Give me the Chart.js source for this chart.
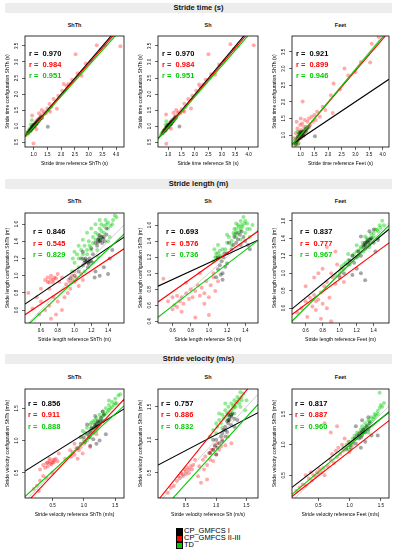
<!DOCTYPE html>
<html>
<head>
<meta charset="utf-8">
<script src="https://cdn.jsdelivr.net/npm/chart.js@4.4.1/dist/chart.umd.min.js"></script>
<style>
  body { margin: 0; background: #fff; font-family: "Liberation Sans", Arial, sans-serif; }
  #page { position: relative; width: 396px; height: 550px; overflow: hidden; }
  .bar { position: absolute; left: 5px; width: 387px; height: 10px; background: #ededed;
         font-weight: bold; font-size: 7.5px; line-height: 10px; text-align: center; color: #111; }
  .ptitle { position: absolute; width: 100px; text-align: center; font-weight: bold; font-size: 5.5px; line-height: 6px; color: #111; }
  canvas { position: absolute; }
  .leg { position: absolute; font-size: 7.5px; line-height: 7px; color: #000; white-space: nowrap; }
  .sq { position: absolute; width: 4.5px; height: 4.5px; border: 0.8px solid #000; }
</style>
</head>
<body>
<div id="page"></div>
<script>
// labels
const sectionTitles = ["Stride time (s)", "Stride length (m)", "Stride velocity (m/s)"];
const quantities = ["time", "length", "velocity"];
const units = ["s", "m", "m/s"];
const sensors = ["ShTh", "Sh", "Feet"];
const groupNames = ["CP_GMFCS I", "CP_GMFCS II-III", "TD"];

// r values per panel: [CP_GMFCS I, CP_GMFCS II-III, TD]
const rTime = [["0.970", "0.984", "0.951"], ["0.970", "0.984", "0.951"], ["0.921", "0.899", "0.946"]];
const rLength = [["0.846", "0.545", "0.829"], ["0.693", "0.576", "0.736"], ["0.837", "0.777", "0.967"]];
const rVelocity = [["0.856", "0.911", "0.888"], ["0.757", "0.886", "0.832"], ["0.817", "0.887", "0.960"]];

// regression lines: slope / intercept, [black, red, green]
const slopeTime = [[1.00, 0.98, 0.96], [1.00, 0.98, 0.96], [0.55, 0.96, 0.98]];
const interceptTime = [[-0.01, 0.00, 0.00], [-0.01, 0.00, 0.00], [0.35, 0.05, 0.03]];
const slopeLength = [[0.66, 0.65, 0.92], [0.52, 0.80, 0.87], [0.80, 0.72, 0.96]];
const interceptLength = [[0.40, 0.28, 0.02], [0.61, 0.29, 0.07], [0.24, 0.21, 0.03]];
const slopeVelocity = [[0.61, 1.03, 0.89], [0.48, 1.14, 1.01], [0.79, 0.80, 0.87]];
const interceptVelocity = [[0.49, -0.05, 0.08], [0.60, 0.04, -0.17], [0.24, 0.09, 0.12]];

// axis ranges and tick steps
const xRangeTime = [[0.69, 4.29], [0.62, 4.35], [0.68, 4.23]];
const yRangeTime = [[0.35, 3.81], [0.35, 3.81], [0.64, 3.98]];
const xRangeLength = [[0.41, 1.59], [0.44, 1.54], [0.44, 1.58]];
const yRangeLength = [[0.45, 1.73], [0.38, 1.75], [0.43, 1.69]];
const xRangeVelocity = [[0.06, 1.64], [0.04, 1.69], [0.08, 1.63]];
const yRangeVelocity = [[0.11, 1.80], [0.12, 1.77], [0.13, 1.91]];
const tickSteps = [0.5, 0.2, 0.5];

// points, flat x,y pairs
const timeShTh_black = [0.85,0.84, 0.88,0.87, 0.9,0.9, 0.92,0.9, 0.94,0.95, 0.96,0.94, 0.98,0.99, 1.0,1.0, 1.02,1.0, 1.03,1.05, 1.05,1.04, 1.07,1.08, 1.08,1.06, 1.1,1.1, 1.12,1.13, 1.13,1.1, 1.15,1.16, 1.17,1.15, 1.2,1.2, 1.22,1.23, 1.25,1.24, 1.28,1.3, 1.3,1.27, 0.95,0.97, 1.0,1.03, 1.1,1.07, 1.52,0.98, 0.8,0.8];
const timeShTh_red = [0.8,0.78, 0.85,0.9, 0.9,0.85, 0.95,1.33, 1.0,0.46, 0.95,1.0, 1.0,1.05, 1.05,0.98, 1.1,1.15, 1.15,1.2, 1.2,1.15, 1.25,1.3, 1.3,1.25, 1.35,1.39, 1.4,1.45, 1.45,1.4, 1.5,1.55, 1.55,1.5, 1.58,1.69, 1.65,1.6, 1.73,1.85, 1.85,1.54, 1.9,1.95, 2.04,2.1, 2.1,2.31, 2.27,2.31, 2.2,2.25, 2.4,2.45, 2.53,3.24, 2.6,2.65, 2.75,2.57, 2.9,2.95, 3.1,3.05, 3.3,3.52, 3.45,3.4, 3.6,3.52, 4.16,3.49, 1.2,1.4, 1.3,1.5, 1.1,0.9, 1.6,1.45];
const timeShTh_green = [0.75,0.73, 0.78,0.8, 0.8,0.78, 0.82,0.84, 0.85,0.83, 0.87,0.9, 0.9,0.88, 0.92,0.95, 0.95,0.92, 0.97,1.0, 1.0,0.97, 1.02,1.04, 1.05,1.02, 1.08,1.1, 1.1,1.08, 1.15,1.13, 1.2,1.22, 1.25,1.22, 0.88,0.86, 0.93,0.93, 0.94,1.18, 0.9,1.05];

const timeSh_black = [0.84,0.85, 0.87,0.86, 0.89,0.91, 0.91,0.89, 0.93,0.95, 0.96,0.95, 0.98,1.0, 1.0,0.98, 1.02,1.03, 1.04,1.05, 1.06,1.04, 1.07,1.09, 1.09,1.07, 1.11,1.11, 1.12,1.14, 1.14,1.11, 1.16,1.17, 1.18,1.15, 1.21,1.2, 1.23,1.24, 1.26,1.25, 1.29,1.3, 0.95,0.98, 1.0,1.04, 1.1,1.06, 1.42,0.99, 0.8,0.79];
const timeSh_red = [0.8,0.8, 0.85,0.88, 0.9,0.86, 0.93,0.45, 0.92,1.36, 0.95,1.0, 1.0,1.04, 1.05,0.97, 1.1,1.14, 1.15,1.2, 1.2,1.16, 1.25,1.3, 1.3,1.26, 1.35,1.4, 1.4,1.44, 1.45,1.4, 1.5,1.53, 1.55,1.48, 1.6,1.7, 1.65,1.6, 1.75,1.85, 1.85,1.55, 1.9,1.95, 2.05,2.1, 2.15,2.3, 2.3,2.3, 2.2,2.22, 2.4,2.45, 2.5,3.24, 2.6,2.62, 2.75,2.6, 2.9,2.92, 3.1,3.05, 3.32,3.55, 3.45,3.4, 3.6,3.5, 4.19,3.52, 1.2,1.42, 1.3,1.5, 1.1,0.92, 1.6,1.45];
const timeSh_green = [0.74,0.74, 0.77,0.79, 0.8,0.79, 0.82,0.83, 0.84,0.84, 0.87,0.89, 0.89,0.88, 0.92,0.94, 0.95,0.93, 0.97,0.99, 1.0,0.98, 1.02,1.03, 1.05,1.03, 1.08,1.09, 1.1,1.07, 1.15,1.14, 1.2,1.21, 1.24,1.22, 0.88,0.87, 0.93,0.92, 0.93,1.15, 0.9,1.04];

const timeFeet_black = [0.85,0.8, 0.88,0.9, 0.9,0.85, 0.92,0.95, 0.95,0.9, 0.97,1.0, 1.0,0.97, 1.02,1.05, 1.05,1.0, 1.07,1.1, 1.1,1.05, 1.12,1.12, 1.15,1.1, 1.18,1.18, 1.2,1.15, 1.25,1.22, 1.3,1.25, 0.95,1.05, 1.0,1.1, 1.52,0.96, 0.82,0.72, 1.1,0.98];
const timeFeet_red = [0.75,0.9, 0.8,0.7, 0.82,1.05, 0.85,0.85, 0.88,1.2, 0.9,0.95, 0.92,0.75, 0.95,1.1, 0.98,1.3, 1.0,0.9, 1.02,1.15, 1.05,1.35, 1.07,2.01, 1.1,1.0, 1.12,1.25, 1.15,1.45, 1.2,1.1, 1.25,1.4, 1.3,1.5, 1.35,1.3, 1.4,1.55, 1.45,1.4, 1.5,1.6, 1.55,1.45, 1.6,1.7, 1.7,1.55, 1.8,1.85, 1.9,1.75, 2.17,1.66, 2.1,2.2, 2.2,2.55, 2.44,2.37, 2.74,2.79, 2.6,3.0, 3.0,2.9, 3.2,3.2, 3.54,3.18, 3.6,3.75, 3.85,3.95, 0.85,1.4, 1.0,1.5];
const timeFeet_green = [0.75,0.8, 0.8,0.75, 0.82,0.88, 0.85,0.82, 0.88,0.95, 0.9,0.88, 0.93,1.0, 0.95,0.9, 0.98,1.05, 1.0,0.95, 1.03,1.08, 1.05,1.0, 1.1,1.1, 1.15,1.15, 1.2,1.25, 0.88,1.1, 0.9,0.72, 1.25,1.2];

const lengthShTh_black = [1.25,1.38, 1.28,1.42, 1.3,1.4, 1.32,1.45, 1.34,1.43, 1.3,1.47, 1.36,1.4, 1.27,1.35, 1.33,1.38, 1.38,1.48, 1.12,1.15, 1.15,1.18, 1.17,1.14, 1.13,1.2, 1.18,1.2, 1.1,1.12, 1.2,1.17, 1.16,1.1, 1.05,1.05, 1.08,1.2, 1.22,1.25, 1.0,1.0, 1.25,1.05, 1.3,1.0, 1.35,1.1, 1.4,1.02, 1.42,1.2, 1.45,1.3, 1.38,1.55, 1.2,1.32, 1.24,0.98, 0.95,0.97, 1.1,1.28, 1.29,1.44, 1.31,1.41, 1.35,1.45, 1.28,1.39, 1.14,1.16, 1.16,1.15, 1.18,1.17, 1.12,1.18];
const lengthShTh_red = [0.65,0.95, 0.68,0.98, 0.7,0.92, 0.72,1.0, 0.75,0.95, 0.78,0.97, 0.8,1.02, 0.82,0.93, 0.85,0.98, 0.7,0.85, 0.9,0.9, 0.93,0.95, 0.95,0.85, 0.97,1.0, 1.0,0.93, 1.02,0.98, 1.05,0.88, 0.92,0.8, 1.0,1.05, 0.55,0.75, 0.5,0.62, 0.58,0.55, 0.6,0.7, 0.65,0.6, 0.7,0.65, 0.72,0.5, 0.75,0.75, 0.8,0.7, 0.85,0.6, 0.88,0.75, 0.6,0.85, 0.45,0.8, 0.78,0.55, 1.1,0.95, 1.08,1.02, 0.68,0.93, 0.72,0.96, 0.74,0.92, 0.76,0.98, 0.95,0.92, 0.98,0.95];
const lengthShTh_green = [0.97,1.05, 1.0,1.15, 1.03,1.25, 1.05,1.1, 1.08,1.3, 1.1,1.2, 1.12,1.35, 1.15,1.25, 1.17,1.4, 1.2,1.3, 1.22,1.45, 1.25,1.5, 1.27,1.3, 1.3,1.55, 1.32,1.6, 1.35,1.5, 1.37,1.65, 1.4,1.55, 1.42,1.45, 1.45,1.6, 1.48,1.7, 1.5,1.68, 1.15,1.5, 1.2,1.55, 1.25,1.6, 1.05,1.35, 1.1,1.42, 1.3,1.65, 1.4,1.4, 1.28,1.22, 1.12,1.05, 1.0,1.28, 0.98,1.2, 1.22,1.15, 1.25,1.42, 1.28,1.48, 1.32,1.52, 1.35,1.58, 1.38,1.6, 1.4,1.62, 1.43,1.58, 1.46,1.65, 1.18,1.35, 1.22,1.38, 1.15,1.3, 1.3,1.42, 1.33,1.45, 1.1,1.25, 1.05,1.2];

const lengthSh_black = [1.1,1.05, 1.12,1.1, 1.14,1.15, 1.15,1.0, 1.16,1.2, 1.18,1.08, 1.13,0.98, 1.17,1.25, 1.2,1.12, 1.1,1.2, 1.28,1.45, 1.3,1.5, 1.32,1.42, 1.34,1.48, 1.3,1.38, 1.36,1.52, 1.27,1.35, 1.25,1.3, 1.38,1.45, 1.4,1.4, 1.43,1.35, 1.45,1.3, 1.2,1.25, 1.22,1.38, 1.08,0.95, 1.15,0.92, 1.35,1.35];
const lengthSh_red = [0.55,0.65, 0.6,0.7, 0.62,0.6, 0.65,0.72, 0.68,0.65, 0.7,0.7, 0.72,0.62, 0.75,0.75, 0.78,0.68, 0.8,0.8, 0.82,0.7, 0.85,0.78, 0.88,0.85, 0.9,0.72, 0.92,0.82, 0.95,0.75, 0.97,0.9, 1.0,0.7, 1.02,0.85, 1.05,0.95, 1.07,0.78, 1.1,0.9, 0.95,0.62, 0.6,0.55, 0.5,0.93, 0.85,0.45, 1.0,0.48, 0.7,0.52, 0.75,0.88, 0.9,1.0, 1.05,1.0, 0.65,0.58];
const lengthSh_green = [1.05,1.15, 1.07,1.2, 1.08,1.25, 1.1,1.18, 1.12,1.28, 1.13,1.22, 1.15,1.3, 1.06,1.3, 1.2,1.38, 1.22,1.45, 1.25,1.4, 1.27,1.5, 1.28,1.55, 1.3,1.45, 1.32,1.6, 1.34,1.52, 1.35,1.65, 1.37,1.58, 1.38,1.7, 1.4,1.5, 1.42,1.62, 1.45,1.55, 1.3,1.62, 1.25,1.35, 1.2,1.48, 1.35,1.42, 1.1,1.35, 1.45,1.45, 1.48,1.6, 1.18,1.3, 1.3,1.55, 1.33,1.58, 1.36,1.6, 1.39,1.62, 1.4,1.65, 1.35,1.55, 1.28,1.48, 1.32,1.5, 1.1,1.25, 1.08,1.2, 1.12,1.2, 1.42,1.55];

const lengthFeet_black = [1.1,1.1, 1.12,1.15, 1.15,1.2, 1.17,1.12, 1.2,1.18, 1.22,1.25, 1.25,1.2, 1.28,1.32, 1.3,1.35, 1.32,1.3, 1.33,1.38, 1.35,1.33, 1.37,1.4, 1.3,1.28, 1.4,1.35, 1.2,1.05, 1.25,1.0, 1.3,0.92, 1.15,0.98, 1.05,1.0, 1.35,1.48, 1.4,1.5, 1.45,1.38, 1.0,0.95, 1.25,1.42, 1.42,1.25, 1.3,1.33, 1.32,1.36, 1.34,1.35, 1.28,1.3, 1.36,1.38];
const lengthFeet_red = [0.5,0.55, 0.55,0.6, 0.6,0.68, 0.62,0.5, 0.65,0.72, 0.68,0.62, 0.7,0.75, 0.72,0.68, 0.75,0.7, 0.78,0.78, 0.8,0.65, 0.82,0.85, 0.85,0.9, 0.88,0.72, 0.9,1.0, 0.92,0.95, 0.95,0.88, 0.97,1.1, 1.0,0.98, 1.02,1.05, 0.7,0.95, 0.75,1.0, 0.8,1.05, 0.85,1.3, 0.95,1.25, 0.78,0.48, 0.9,0.45, 0.85,0.6, 0.6,0.85, 1.05,0.9, 0.72,0.58];
const lengthFeet_green = [0.95,0.98, 1.0,1.02, 1.02,1.08, 1.05,1.05, 1.07,1.12, 1.1,1.15, 1.12,1.1, 1.15,1.2, 1.17,1.22, 1.2,1.25, 1.22,1.2, 1.25,1.3, 1.27,1.35, 1.3,1.32, 1.32,1.4, 1.35,1.38, 1.37,1.45, 1.4,1.42, 1.42,1.5, 1.45,1.48, 1.47,1.55, 1.5,1.6, 1.52,1.55, 1.3,1.42, 1.2,1.32, 1.1,1.22, 1.45,1.4, 1.35,1.3, 1.05,1.1, 1.28,1.25, 1.3,1.35, 1.33,1.36, 1.36,1.4, 1.38,1.4, 1.4,1.46, 1.44,1.5, 1.48,1.52, 1.25,1.28, 1.22,1.26];

const velocityShTh_black = [0.95,0.95, 1.0,1.05, 1.02,0.98, 1.05,1.1, 1.08,1.05, 1.1,1.15, 1.12,1.2, 1.15,1.12, 1.17,1.25, 1.2,1.2, 1.22,1.3, 1.25,1.25, 1.27,1.35, 1.3,1.3, 1.32,1.4, 1.1,0.92, 1.2,0.95, 1.25,1.0, 1.15,1.02, 0.9,0.88, 1.35,1.1, 1.3,1.45, 1.18,1.38, 1.05,1.25, 1.15,1.18, 1.18,1.22, 1.2,1.26, 1.22,1.22, 1.25,1.3, 1.1,1.12];
const velocityShTh_red = [0.3,0.55, 0.35,0.62, 0.38,0.58, 0.4,0.65, 0.42,0.6, 0.45,0.68, 0.48,0.63, 0.5,0.7, 0.52,0.66, 0.55,0.72, 0.58,0.68, 0.45,0.72, 0.35,0.45, 0.3,0.38, 0.25,0.3, 0.4,0.42, 0.28,0.22, 0.5,0.5, 0.2,0.25, 0.8,0.75, 0.82,0.82, 0.85,0.78, 0.88,0.88, 0.9,0.72, 0.92,0.85, 0.95,0.9, 0.85,0.95, 0.78,0.85, 0.98,0.8, 1.0,0.95, 1.05,1.0, 1.1,0.9, 0.6,0.8, 0.95,1.05, 1.2,1.1, 0.7,0.72, 0.42,0.66, 0.46,0.64, 0.5,0.66, 0.53,0.7];
const velocityShTh_green = [0.95,1.05, 1.0,1.0, 1.02,1.12, 1.05,1.2, 1.08,1.1, 1.1,1.25, 1.12,1.18, 1.15,1.3, 1.18,1.22, 1.2,1.35, 1.22,1.28, 1.25,1.4, 1.28,1.35, 1.3,1.45, 1.32,1.4, 1.35,1.5, 1.38,1.45, 1.4,1.55, 1.42,1.5, 1.45,1.6, 1.48,1.55, 1.5,1.65, 1.55,1.7, 1.58,1.72, 1.52,1.58, 1.1,1.05, 1.2,1.15, 1.3,1.3, 0.98,1.15, 1.4,1.62, 1.15,1.2, 1.2,1.25, 1.25,1.3, 1.3,1.38, 1.35,1.42, 1.4,1.48, 1.45,1.52, 1.5,1.58, 1.12,1.28, 1.18,1.32];

const velocitySh_black = [0.9,0.8, 0.95,0.85, 0.98,0.92, 1.0,0.78, 1.02,0.88, 1.05,0.95, 1.08,1.05, 1.1,1.1, 1.12,1.15, 1.15,1.2, 1.18,1.12, 1.2,1.25, 1.22,1.3, 1.25,1.35, 1.27,1.4, 1.3,1.32, 1.15,1.05, 1.1,0.98, 1.0,1.0, 1.25,1.22, 1.2,1.38, 1.35,1.3, 1.3,1.2, 0.95,1.0, 1.2,1.3, 1.22,1.35, 1.25,1.38, 1.18,1.28, 1.15,1.15];
const velocitySh_red = [0.35,0.38, 0.38,0.45, 0.4,0.42, 0.42,0.5, 0.45,0.48, 0.48,0.55, 0.5,0.52, 0.52,0.58, 0.55,0.5, 0.58,0.6, 0.6,0.55, 0.62,0.62, 0.3,0.3, 0.25,0.28, 0.2,0.2, 0.7,0.45, 0.72,0.6, 0.75,0.35, 0.78,0.7, 0.8,0.55, 0.82,0.75, 0.85,0.62, 0.88,0.8, 0.9,0.7, 0.92,0.85, 0.95,0.68, 0.98,0.9, 1.0,0.78, 1.02,0.95, 1.05,0.85, 1.08,0.9, 1.1,1.0, 1.15,0.92, 1.2,1.05, 1.25,0.95, 0.85,0.4, 0.65,0.7, 0.45,0.45, 0.5,0.48, 0.55,0.55, 0.9,0.8, 0.95,0.85];
const velocitySh_green = [0.9,1.05, 0.95,1.15, 1.0,1.1, 1.02,1.2, 1.05,1.3, 1.08,1.25, 1.1,1.38, 1.12,1.32, 1.15,1.45, 1.18,1.4, 1.2,1.5, 1.22,1.42, 1.25,1.55, 1.28,1.48, 1.3,1.6, 1.32,1.5, 1.35,1.65, 1.38,1.55, 1.4,1.5, 1.42,1.6, 1.45,1.7, 1.48,1.45, 1.5,1.6, 1.0,1.25, 1.1,1.18, 1.2,1.3, 1.3,1.4, 1.15,1.55, 1.05,1.4, 1.4,1.72, 1.2,1.4, 1.25,1.45, 1.28,1.52, 1.3,1.5, 1.32,1.55, 1.35,1.58, 1.38,1.62, 1.25,1.38, 1.15,1.35, 1.42,1.65];

const velocityFeet_black = [1.0,1.0, 1.02,0.95, 1.05,1.05, 1.08,1.1, 1.1,1.02, 1.12,1.15, 1.15,1.1, 1.17,1.2, 1.2,1.15, 1.22,1.25, 1.25,1.2, 1.27,1.3, 1.3,1.25, 1.32,1.35, 1.18,0.95, 1.25,1.05, 1.35,1.15, 1.1,1.3, 1.3,1.45, 1.45,1.15, 1.2,1.4, 0.95,0.92, 1.15,1.15, 1.2,1.2, 1.22,1.2, 1.25,1.25, 1.18,1.12];
const velocityFeet_red = [0.15,0.25, 0.2,0.3, 0.25,0.35, 0.3,0.33, 0.35,0.45, 0.4,0.42, 0.42,0.5, 0.45,0.48, 0.48,0.55, 0.5,0.52, 0.52,0.6, 0.55,0.55, 0.58,0.62, 0.6,0.5, 0.38,0.55, 0.3,0.5, 0.7,0.75, 0.72,0.85, 0.75,0.7, 0.78,0.9, 0.8,0.8, 0.82,0.95, 0.85,0.85, 0.88,1.0, 0.9,0.9, 0.92,1.1, 0.95,0.95, 0.98,1.05, 1.0,0.88, 0.6,1.35, 0.8,1.3, 0.7,1.2, 1.05,1.0, 0.65,0.65];
const velocityFeet_green = [0.9,0.95, 0.95,1.0, 1.0,1.05, 1.02,1.0, 1.05,1.1, 1.08,1.15, 1.1,1.1, 1.12,1.2, 1.15,1.18, 1.18,1.25, 1.2,1.3, 1.22,1.25, 1.25,1.35, 1.28,1.3, 1.3,1.4, 1.32,1.38, 1.35,1.45, 1.38,1.42, 1.4,1.5, 1.42,1.48, 1.45,1.55, 1.48,1.6, 1.5,1.65, 1.52,1.62, 1.55,1.68, 1.48,1.85, 1.0,0.92, 1.3,1.2, 1.2,1.22, 1.25,1.28, 1.3,1.32, 1.35,1.38, 1.4,1.45, 1.45,1.5];

// lookups built from the arrays above: [row][col] -> [black, red, green]
const pointSets = [
  [[timeShTh_black, timeShTh_red, timeShTh_green], [timeSh_black, timeSh_red, timeSh_green], [timeFeet_black, timeFeet_red, timeFeet_green]],
  [[lengthShTh_black, lengthShTh_red, lengthShTh_green], [lengthSh_black, lengthSh_red, lengthSh_green], [lengthFeet_black, lengthFeet_red, lengthFeet_green]],
  [[velocityShTh_black, velocityShTh_red, velocityShTh_green], [velocitySh_black, velocitySh_red, velocitySh_green], [velocityFeet_black, velocityFeet_red, velocityFeet_green]]
];
const rValues = [rTime, rLength, rVelocity];
const slopes = [slopeTime, slopeLength, slopeVelocity];
const intercepts = [interceptTime, interceptLength, interceptVelocity];
const xRanges = [xRangeTime, xRangeLength, xRangeVelocity];
const yRanges = [yRangeTime, yRangeLength, yRangeVelocity];

// layout (page pixels)
const boxTop = [35, 212, 388], boxBottom = [147, 323, 498];
const boxLeft = [25, 158, 292], boxRight = [124, 258, 389];
const barTop = [3, 179, 354];
const panelTitleY = [22, 198, 374];
const rOffsetX = [4, 8, 3];
const rOffsetY = [[18, 29, 40], [19, 31, 42], [15, 26, 38]];

const FONT = '"Liberation Sans", Arial, sans-serif';
const lineColors = ['#000000', '#ff0000', '#00cd00'];
const textColors = ['#000000', '#ff0000', '#00cd00'];
const pointColors = ['rgba(0,0,0,0.35)', 'rgba(255,0,0,0.33)', 'rgba(0,205,0,0.42)'];

const page = document.getElementById('page');

function toPoints(flat) {
  const out = [];
  for (let i = 0; i < flat.length; i += 2) out.push({ x: flat[i], y: flat[i + 1] });
  return out;
}

// y tick labels (rotated like R), the box, and the r annotations
const panelDecor = {
  id: 'panelDecor',
  afterDraw(chart, args, opts) {
    const { ctx, chartArea: a } = chart;
    const ys = chart.scales.y;
    ctx.save();
    ctx.fillStyle = '#000';
    ctx.font = '4.5px ' + FONT;
    ctx.textAlign = 'center';
    ctx.textBaseline = 'middle';
    ys.ticks.forEach(t => {
      const py = ys.getPixelForValue(t.value);
      ctx.save();
      ctx.translate(a.left - 8, py);
      ctx.rotate(-Math.PI / 2);
      ctx.fillText(t.value.toFixed(1), 0, 0);
      ctx.restore();
    });
    ctx.lineWidth = 0.8;
    ctx.strokeStyle = '#000';
    ctx.strokeRect(a.left, a.top, a.right - a.left, a.bottom - a.top);
    ctx.font = 'bold 7.5px ' + FONT;
    ctx.textAlign = 'left';
    opts.rText.forEach((txt, i) => {
      ctx.fillStyle = textColors[i];
      ctx.fillText('r =  ' + txt, a.left + opts.dx, a.top + opts.dy[i]);
    });
    ctx.restore();
  }
};

for (let r = 0; r < 3; r++) {
  const bar = document.createElement('div');
  bar.className = 'bar';
  bar.style.top = barTop[r] + 'px';
  bar.textContent = sectionTitles[r];
  page.appendChild(bar);

  for (let c = 0; c < 3; c++) {
    const t = document.createElement('div');
    t.className = 'ptitle';
    t.style.left = ((boxLeft[c] + boxRight[c]) / 2 - 50) + 'px';
    t.style.top = panelTitleY[r] + 'px';
    t.textContent = sensors[c];
    page.appendChild(t);

    const w = boxRight[c] - boxLeft[c] + 29;
    const h = boxBottom[r] - boxTop[r] + 25;
    const cv = document.createElement('canvas');
    cv.width = w; cv.height = h;
    cv.style.left = (boxLeft[c] - 25) + 'px';
    cv.style.top = (boxTop[r] - 3) + 'px';
    cv.style.width = w + 'px'; cv.style.height = h + 'px';
    page.appendChild(cv);

    const [xmin, xmax] = xRanges[r][c];
    const [ymin, ymax] = yRanges[r][c];
    const pts = pointSets[r][c];
    const fitLine = g => [
      { x: xmin, y: intercepts[r][c][g] + slopes[r][c][g] * xmin },
      { x: xmax, y: intercepts[r][c][g] + slopes[r][c][g] * xmax }
    ];
    const lineDs = g => ({ data: fitLine(g), showLine: true, borderColor: lineColors[g], borderWidth: 1.1, pointRadius: 0, fill: false });
    const ptsDs = g => ({ data: toPoints(pts[g]), showLine: false, pointRadius: 2, pointBackgroundColor: pointColors[g], pointBorderWidth: 0 });

    // index 0 is drawn on top
    const datasets = [
      lineDs(2), lineDs(1), lineDs(0),
      { data: [{ x: xmin, y: xmin }, { x: xmax, y: xmax }], showLine: true, borderColor: '#b0b0b0', borderWidth: 0.6, pointRadius: 0 },
      ptsDs(0), ptsDs(2), ptsDs(1)
    ];

    const q = quantities[r], u = units[r];
    new Chart(cv, {
      type: 'scatter',
      data: { datasets },
      options: {
        responsive: false,
        animation: false,
        devicePixelRatio: 1,
        layout: { padding: { top: 3, right: 4, left: 0, bottom: 0 } },
        plugins: {
          legend: { display: false },
          tooltip: { enabled: false },
          panelDecor: { rText: rValues[r][c], dx: rOffsetX[r], dy: rOffsetY[r] }
        },
        scales: {
          x: {
            type: 'linear', min: xmin, max: xmax,
            afterFit: s => { s.height = 22; },
            ticks: { stepSize: tickSteps[r], includeBounds: false, autoSkip: false, maxRotation: 0, padding: 2,
                     color: '#000', font: { size: 4.5, family: FONT }, callback: v => Number(v).toFixed(1) },
            grid: { drawOnChartArea: false, drawTicks: true, tickLength: 3, color: '#000', lineWidth: 0.6 },
            border: { display: false },
            title: { display: true, text: `Stride ${q} reference ${sensors[c]} (${u})`, color: '#000',
                     font: { size: 5, family: FONT, lineHeight: 1 }, padding: { top: 0, bottom: 2.5 } }
          },
          y: {
            type: 'linear', min: ymin, max: ymax,
            afterFit: s => { s.width = 25; },
            ticks: { stepSize: tickSteps[r], includeBounds: false, display: false },
            grid: { drawOnChartArea: false, drawTicks: true, tickLength: 3, color: '#000', lineWidth: 0.6 },
            border: { display: false },
            title: { display: true, text: `Stride ${q} configuration ShTh (${u})`, color: '#000',
                     font: { size: 5, family: FONT, lineHeight: 1 }, padding: { top: 5, bottom: 0 } }
          }
        }
      },
      plugins: [panelDecor]
    });
  }
}

// legend
const legTop = [527, 534, 541];
const legFill = ['#000000', '#ff0000', '#00cd00'];
groupNames.forEach((name, i) => {
  const sq = document.createElement('div');
  sq.className = 'sq';
  sq.style.left = '176px';
  sq.style.top = (legTop[i] + 1) + 'px';
  sq.style.background = legFill[i];
  page.appendChild(sq);
  const tx = document.createElement('div');
  tx.className = 'leg';
  tx.style.left = '184px';
  tx.style.top = legTop[i] + 'px';
  tx.textContent = name;
  page.appendChild(tx);
});
</script>
</body>
</html>
